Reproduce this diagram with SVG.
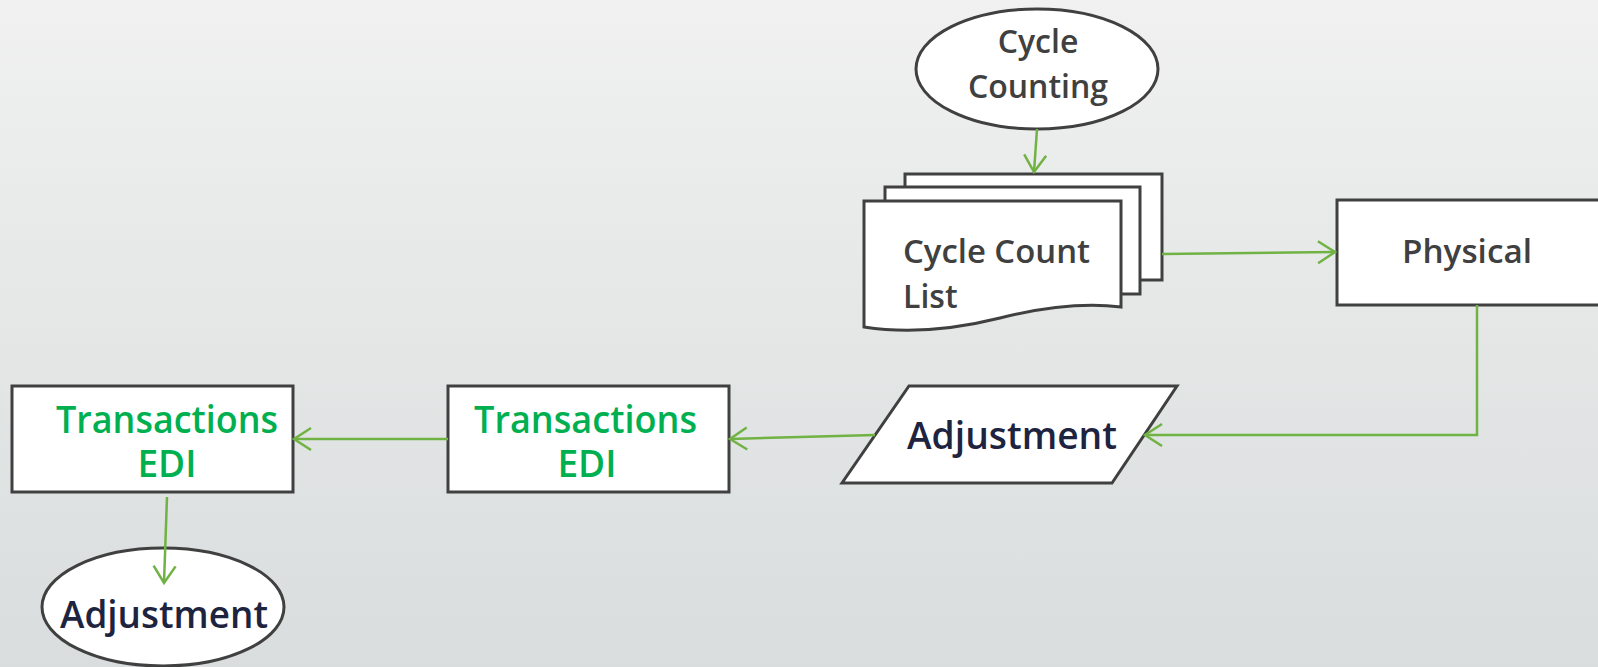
<svg xmlns="http://www.w3.org/2000/svg" width="1598" height="667" viewBox="0 0 1598 667">
<defs>
<linearGradient id="bg" x1="0" y1="0" x2="0" y2="1">
<stop offset="0" stop-color="#f0f1f0"/>
<stop offset="1" stop-color="#d9dddd"/>
</linearGradient>
<marker id="arr" markerUnits="userSpaceOnUse" markerWidth="24" markerHeight="28" refX="19" refY="12" orient="auto">
<path d="M2,1 L19,12 L2,23" fill="none" stroke="#70b244" stroke-width="2.5"/>
</marker>
<style>
.shape{fill:#fff;stroke:#404040;stroke-width:3}
.conn{fill:none;stroke:#70b244;stroke-width:2.5;marker-end:url(#arr)}
text{font-family:"Open Sans","Noto Sans","Liberation Sans",sans-serif;font-weight:600}
.dark{fill:#404040;font-size:32px}
.navy{fill:#1e2440;font-size:37px}
.green{fill:#00b050;font-size:37px}
</style>
</defs>
<rect x="0" y="0" width="1598" height="667" fill="url(#bg)"/>
<g id="cycle-counting">
<ellipse class="shape" cx="1037" cy="69" rx="121" ry="60"/>
<text class="dark" x="1038" y="53" text-anchor="middle">Cycle</text>
<text class="dark" x="1038" y="98" text-anchor="middle">Counting</text>
</g>
<g id="cycle-count-list">
<rect class="shape" x="905" y="174" width="257" height="106"/>
<rect class="shape" x="885" y="187" width="255" height="107"/>
<path class="shape" d="M864,201 H1121 V307 C1080,302 1040,308 1000,318 C960,328 910,334 864,327 Z"/>
<text class="dark" x="903" y="263" textLength="187" lengthAdjust="spacingAndGlyphs">Cycle Count</text>
<text class="dark" x="903" y="308">List</text>
</g>
<g id="physical">
<rect class="shape" x="1337" y="200" width="275" height="105"/>
<text class="dark" x="1402" y="263" textLength="130" lengthAdjust="spacingAndGlyphs">Physical</text>
</g>
<g id="adjustment-io">
<path class="shape" d="M909,386 H1177 L1112,483 H842 Z"/>
<text class="navy" x="907" y="449" textLength="210" lengthAdjust="spacingAndGlyphs">Adjustment</text>
</g>
<g id="transactions-edi-2">
<rect class="shape" x="448" y="386" width="281" height="106"/>
<text class="green" x="474" y="433" textLength="223" lengthAdjust="spacingAndGlyphs">Transactions</text>
<text class="green" x="587" y="477" text-anchor="middle">EDI</text>
</g>
<g id="transactions-edi-1">
<rect class="shape" x="12" y="386" width="281" height="106"/>
<text class="green" x="56" y="433" textLength="222" lengthAdjust="spacingAndGlyphs">Transactions</text>
<text class="green" x="167" y="477" text-anchor="middle">EDI</text>
</g>
<g id="adjustment-end">
<ellipse class="shape" cx="163" cy="607" rx="121" ry="59"/>
<text class="navy" x="60" y="628" textLength="208" lengthAdjust="spacingAndGlyphs">Adjustment</text>
</g>
<g id="connectors">
<path class="conn" d="M1037,129 L1034,172"/>
<path class="conn" d="M1162,254 L1335,252"/>
<path class="conn" d="M1477,305 L1477,435 L1145,435"/>
<path class="conn" d="M875,435 L730,439"/>
<path class="conn" d="M448,439 L294,439"/>
<path class="conn" d="M167,497 L164,583"/>
</g>
</svg>
